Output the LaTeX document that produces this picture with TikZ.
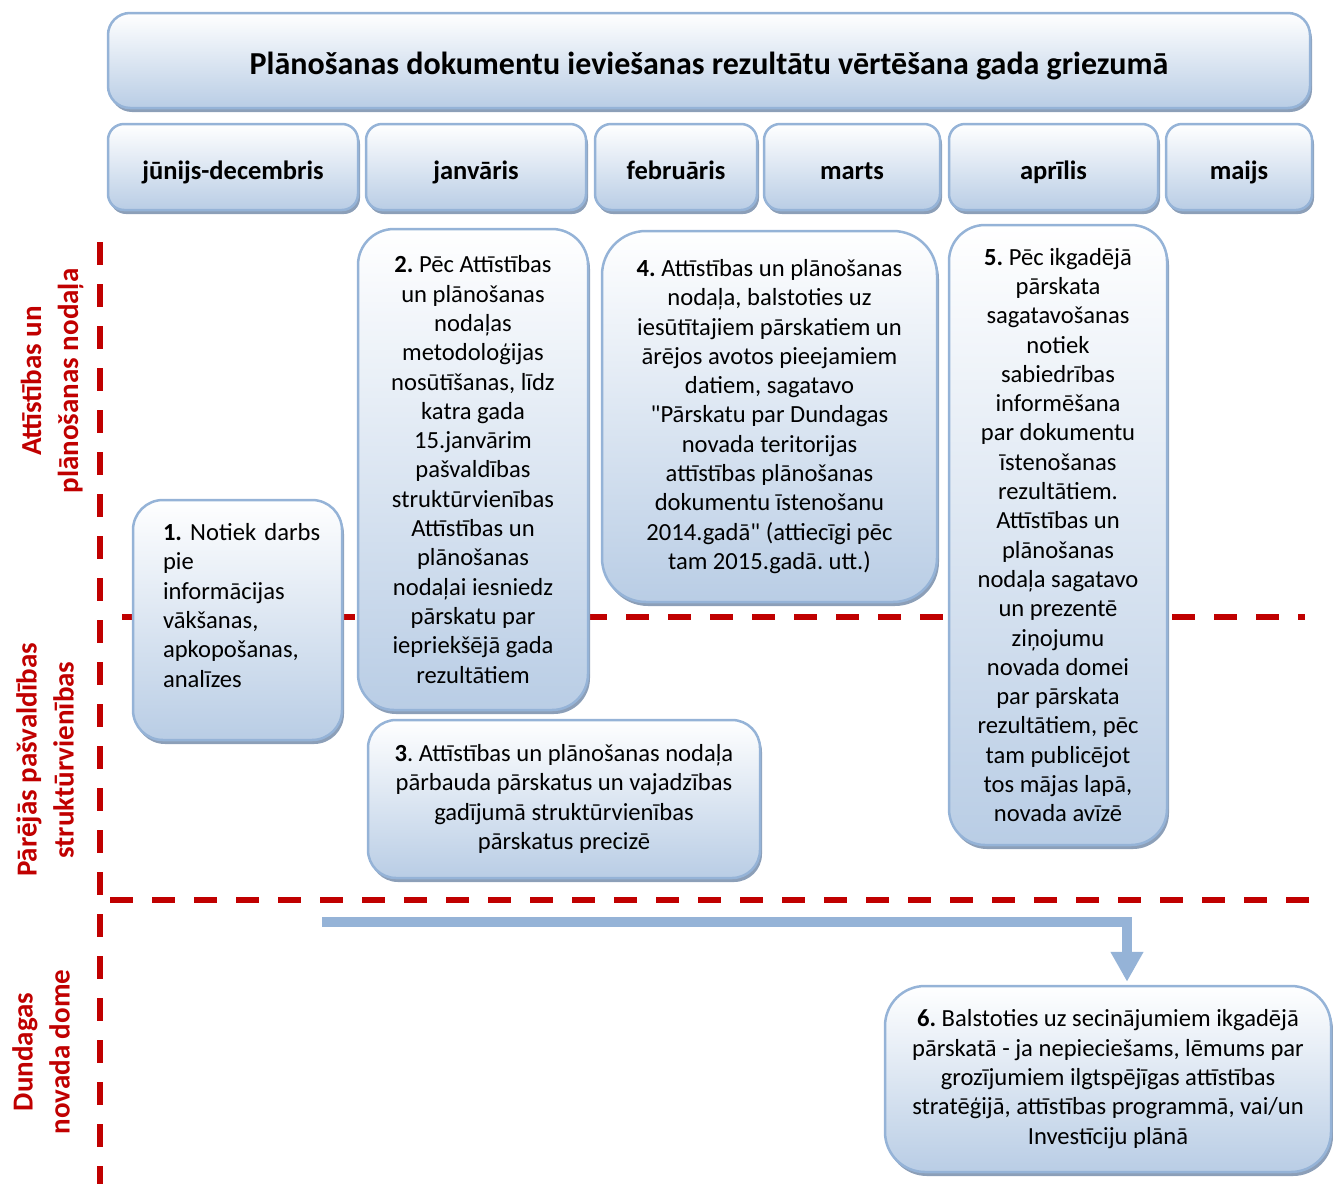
\documentclass[tikz,border=0pt]{standalone}
\usepackage{fontspec}
\setmainfont{Carlito}
\usetikzlibrary{arrows.meta,shadows}
\definecolor{boxline}{HTML}{95B3D7}
\definecolor{boxfill}{HTML}{B9CDE5}
\definecolor{boxshadow}{HTML}{8C9FB8}
\definecolor{lanered}{HTML}{C00000}
\frenchspacing

\begin{document}
\begin{tikzpicture}[x=1pt,y=-1pt,
  blockbox/.style={draw=boxline, line width=2.5pt, rounded corners=#1,
    top color=white, bottom color=boxfill,
    drop shadow={shadow xshift=2pt, shadow yshift=-4pt, fill=boxshadow, opacity=1},
    inner sep=6pt, align=center, font=\fontsize{24.6}{29.3}\selectfont},
  blockbox/.default=30pt,
  monthbox/.style={blockbox=16pt, minimum height=86pt, text height=24pt, text depth=0pt,
    font=\fontsize{26.5}{30}\selectfont\bfseries},
  lanelabel/.style={text=lanered, rotate=90, align=center, font=\fontsize{29}{37}\selectfont\bfseries},
  laneline/.style={draw=lanered, line width=6pt, dash pattern=on 23pt off 19pt},
  flowarrow/.style={draw=boxline, line width=10pt, -{Triangle[length=30pt,width=31pt]}}]
\useasboundingbox (0,0) rectangle (1333,1184);

\draw[laneline] (100,242) -- (100,1184);
\draw[laneline] (122,617) -- (1305,617);
\draw[laneline] (110,900) -- (1310,900);

\node[blockbox=22pt, minimum width=1202pt, minimum height=95pt, text height=28.4pt, text depth=0pt,
  font=\fontsize{32}{36}\selectfont\bfseries] (title) at (709,60.5)
  {Plānošanas dokumentu ieviešanas rezultātu vērtēšana gada griezumā};

\node[monthbox, minimum width=250pt] (mjun) at (233,167) {jūnijs-decembris};
\node[monthbox, minimum width=220pt] (mjan) at (476,167) {janvāris};
\node[monthbox, minimum width=162pt] (mfeb) at (676,167) {februāris};
\node[monthbox, minimum width=176pt] (mmar) at (852,167) {marts};
\node[monthbox, minimum width=209pt] (mapr) at (1053.5,167) {aprīlis};
\node[monthbox, minimum width=146pt] (mmai) at (1239,167) {maijs};

\node[lanelabel] (lane1) at (52,381) {Attīstības un\\plānošanas nodaļa};
\node[lanelabel] (lane2) at (45,760) {Pārējās pašvaldības\\struktūrvienības};
\node[lanelabel] (lane3) at (41,1052) {Dundagas\\novada dome};

\node[blockbox, minimum width=209pt, minimum height=240pt, text width=149pt, align=left] (s1) at (237.5,620)
  {\mbox{\textbf{1.} Notiek darbs}\\pie\\informācijas\\vākšanas,\\apkopošanas,\\analīzes\\\mbox{}};
\node[blockbox=36pt, minimum width=230pt, minimum height=481pt] (s2) at (473,469.5)
  {\textbf{2.} Pēc Attīstības\\un plānošanas\\nodaļas\\metodoloģijas\\nosūtīšanas, līdz\\katra gada\\15.janvārim\\pašvaldības\\struktūrvienības\\Attīstības un\\plānošanas\\nodaļai iesniedz\\pārskatu par\\iepriekšējā gada\\rezultātiem};
\node[blockbox=28pt, minimum width=392pt, minimum height=158pt] (s3) at (564,799)
  {\textbf{3}. Attīstības un plānošanas nodaļa\\pārbauda pārskatus un vajadzības\\gadījumā struktūrvienības\\pārskatus precizē};
\node[blockbox=44pt, minimum width=335pt, minimum height=371pt] (s4) at (769.5,416.5)
  {\textbf{4.} Attīstības un plānošanas\\nodaļa, balstoties uz\\iesūtītajiem pārskatiem un\\ārējos avotos pieejamiem\\datiem, sagatavo\\\textquotedbl Pārskatu par Dundagas\\novada teritorijas\\attīstības plānošanas\\dokumentu īstenošanu\\2014.gadā\textquotedbl{} (attiecīgi pēc\\tam 2015.gadā. utt.)};
\node[blockbox=36pt, minimum width=218pt, minimum height=620pt] (s5) at (1058,535)
  {\textbf{5.} Pēc ikgadējā\\pārskata\\sagatavošanas\\notiek\\sabiedrības\\informēšana\\par dokumentu\\īstenošanas\\rezultātiem.\\Attīstības un\\plānošanas\\nodaļa sagatavo\\un prezentē\\ziņojumu\\novada domei\\par pārskata\\rezultātiem, pēc\\tam publicējot\\tos mājas lapā,\\novada avīzē};
\node[blockbox=40pt, minimum width=446pt, minimum height=186pt] (s6) at (1108,1079)
  {\textbf{6.} Balstoties uz secinājumiem ikgadējā\\pārskatā - ja nepieciešams, lēmums par\\grozījumiem ilgtspējīgas attīstības\\stratēģijā, attīstības programmā, vai/un\\Investīciju plānā};

\coordinate (arrstart) at (322,922);
\draw[flowarrow] (arrstart) -| ([xshift=19pt,yshift=3pt]s6.north);
\end{tikzpicture}
\end{document}
